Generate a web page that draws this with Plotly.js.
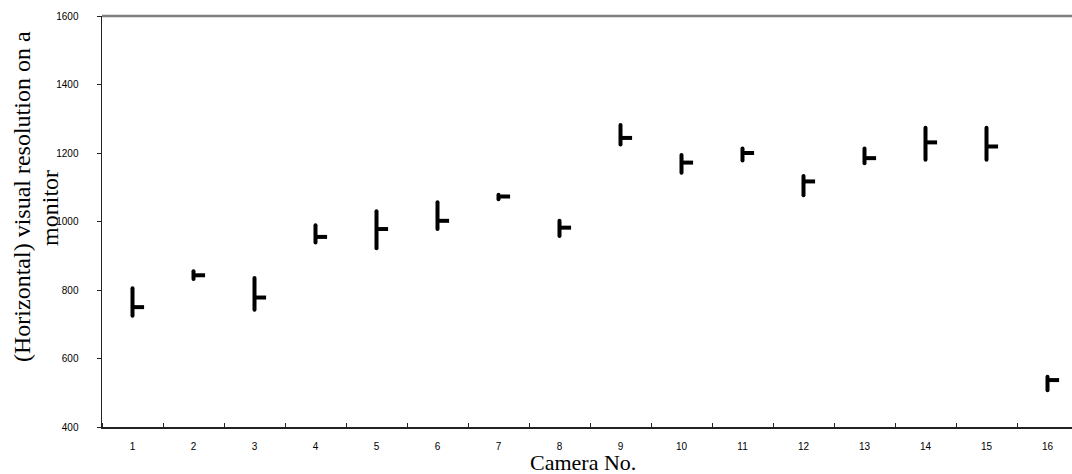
<!DOCTYPE html>
<html>
<head>
<meta charset="utf-8">
<script src="https://cdn.plot.ly/plotly-3.0.1.min.js"></script>
<style>
  html, body { margin: 0; padding: 0; overflow: hidden; background: #fff; }
  #chart { width: 1080px; height: 474px; }
  .scatterlayer .trace:first-child path.js-line { stroke-linecap: round; }
</style>
</head>
<body>
<div id="chart"></div>
<script>
// Data
const cameraLabels = ['1','2','3','4','5','6','7','8','9','10','11','12','13','14','15','16'];
const cameraNo     = [1,2,3,4,5,6,7,8,9,10,11,12,13,14,15,16];
const highValues   = [805, 855, 835, 989, 1030, 1056, 1078, 1002, 1282, 1194, 1213, 1133, 1213, 1274, 1274, 547];
const lowValues    = [725, 832, 742, 939, 922, 978, 1065, 958, 1225, 1142, 1178, 1077, 1170, 1180, 1180, 507];
const closeValues  = [750, 843, 778, 955, 978, 1002, 1073, 982, 1244, 1172, 1200, 1117, 1185, 1231, 1219, 537];
const xTitle = 'Camera No.';
const yTitleLines = ['(Horizontal) visual resolution on a', 'monitor'];

// Style: length of the close tick to the right of the vertical line (axis units)
const closeTickLen = 0.19;

const vx = [], vy = [], cx = [], cy = [];
cameraNo.forEach((c, i) => {
  vx.push(c, c, null); vy.push(highValues[i], lowValues[i], null);
  cx.push(c, c + closeTickLen, null); cy.push(closeValues[i], closeValues[i], null);
});

const traces = [
  { type: 'scatter', mode: 'lines', x: vx, y: vy, line: { color: '#000', width: 4 }, hoverinfo: 'skip', showlegend: false },
  { type: 'scatter', mode: 'lines', x: cx, y: cy, line: { color: '#000', width: 4 }, hoverinfo: 'skip', showlegend: false }
];

const serif = 'Liberation Serif, Times New Roman, serif';
const layout = {
  width: 1080, height: 474,
  margin: { l: 102, r: 2, t: 16, b: 47 },
  paper_bgcolor: '#fff', plot_bgcolor: '#fff',
  showlegend: false,
  xaxis: {
    range: [0.5, 16.5],
    tickmode: 'array', tickvals: cameraNo, ticktext: cameraLabels,
    ticks: '', showgrid: false, zeroline: false,
    showline: true, linecolor: '#222', linewidth: 1.5,
    minor: { tick0: 0.5, dtick: 1, ticks: 'inside', ticklen: 4, tickcolor: '#222', tickwidth: 1, showgrid: false },
    tickfont: { family: 'Liberation Sans, Arial, sans-serif', size: 10, color: '#000' },
    ticklabelstandoff: 9
  },
  yaxis: {
    range: [400, 1600], dtick: 200, tick0: 400,
    ticks: 'outside', ticklen: 4, tickcolor: '#222', tickwidth: 1,
    showgrid: false, zeroline: false,
    showline: true, linecolor: '#222', linewidth: 1.5,
    tickfont: { family: 'Liberation Sans, Arial, sans-serif', size: 10, color: '#000' },
    ticklabelstandoff: 16
  },
  shapes: [
    { type: 'line', xref: 'paper', yref: 'paper', x0: 0, x1: 1, y0: 1, y1: 1, line: { color: '#808080', width: 2.5 } }
  ],
  annotations: [
    { xref: 'paper', yref: 'paper', x: -0.082, y: 0.562, xanchor: 'center', yanchor: 'middle',
      textangle: -90, showarrow: false, text: yTitleLines[0],
      font: { family: serif, size: 24, color: '#000' } },
    { xref: 'paper', yref: 'paper', x: -0.0533, y: 0.533, xanchor: 'center', yanchor: 'middle',
      textangle: -90, showarrow: false, text: yTitleLines[1],
      font: { family: serif, size: 24, color: '#000' } },
    { xref: 'paper', yref: 'paper', x: (583 - 102) / 976, y: -(462 - 427) / 411, xanchor: 'center', yanchor: 'middle',
      height: 18, valign: 'middle', borderpad: 0,
      showarrow: false, text: xTitle,
      font: { family: serif, size: 22, color: '#000' } }
  ]
};

Plotly.newPlot('chart', traces, layout, { displayModeBar: false, staticPlot: true });
</script>
</body>
</html>
